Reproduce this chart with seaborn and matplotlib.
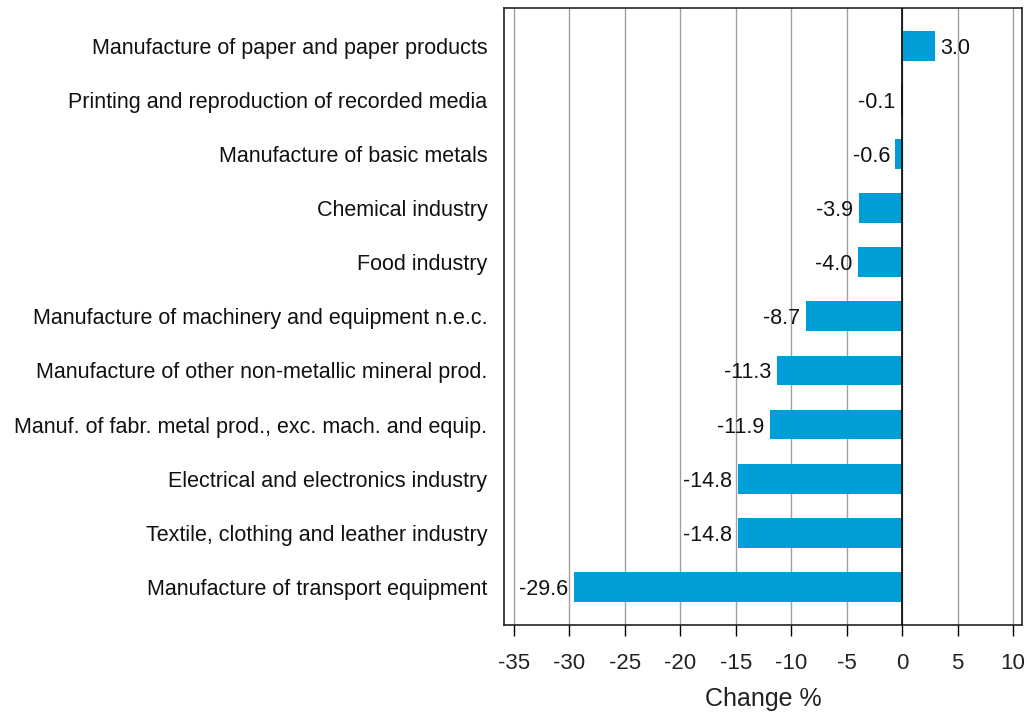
import matplotlib
matplotlib.use("Agg")
import matplotlib.pyplot as plt
import seaborn as sns
import pandas as pd

categories = [
    "Manufacture of paper and paper products",
    "Printing and reproduction of recorded media",
    "Manufacture of basic metals",
    "Chemical industry",
    "Food industry",
    "Manufacture of machinery and equipment n.e.c.",
    "Manufacture of other non-metallic mineral prod.",
    "Manuf. of fabr. metal prod., exc. mach. and equip.",
    "Electrical and electronics industry",
    "Textile, clothing and leather industry",
    "Manufacture of transport equipment",
]
values = [3.0, -0.1, -0.6, -3.9, -4.0, -8.7, -11.3, -11.9, -14.8, -14.8, -29.6]
x_ticks = [-35, -30, -25, -20, -15, -10, -5, 0, 5, 10]
x_label = "Change %"

df = pd.DataFrame({"category": categories, "value": values})

sns.set_theme(style="white")
plt.rcParams["font.family"] = ["Liberation Sans", "DejaVu Sans"]

fig = plt.figure(figsize=(10.27, 7.19), dpi=100)
ax = fig.add_axes([0.4907, 0.131, 0.5043, 0.858])

sns.barplot(data=df, x="value", y="category", orient="h", color="#009ED9",
            saturation=1, width=0.55, linewidth=0, ax=ax, zorder=3)

ax.set_xlim(-35.9, 10.8)
ax.set_ylim(len(categories) - 0.3, -0.7)
ax.set_xticks(x_ticks)
ax.set_xticklabels([str(t) for t in x_ticks], fontsize=16)
ax.grid(axis="x", color="#a0a0a0", linewidth=1, zorder=0)
ax.axvline(0, color="black", linewidth=1.2, zorder=4)
ax.tick_params(axis="x", bottom=True, direction="out", length=8, width=1,
               color="black", pad=12, labelcolor="#222222")
ax.tick_params(axis="y", left=False, length=0, labelsize=15.5, pad=12,
               labelcolor="#111111")
for sp in ax.spines.values():
    sp.set_color("#222222")
    sp.set_linewidth(1.2)
ax.set_ylabel("")
ax.set_xlabel(x_label, fontsize=18, labelpad=10, color="#222222")

for i, v in enumerate(values):
    if v >= 0:
        ax.text(v + 0.4, i, f"{v:.1f}", ha="left", va="center_baseline",
                fontsize=15.5, color="#111111", zorder=5)
    else:
        ax.text(v - 0.5, i, f"{v:.1f}", ha="right", va="center_baseline",
                fontsize=15.5, color="#111111", zorder=5)

fig.savefig("out.png", dpi=100)
